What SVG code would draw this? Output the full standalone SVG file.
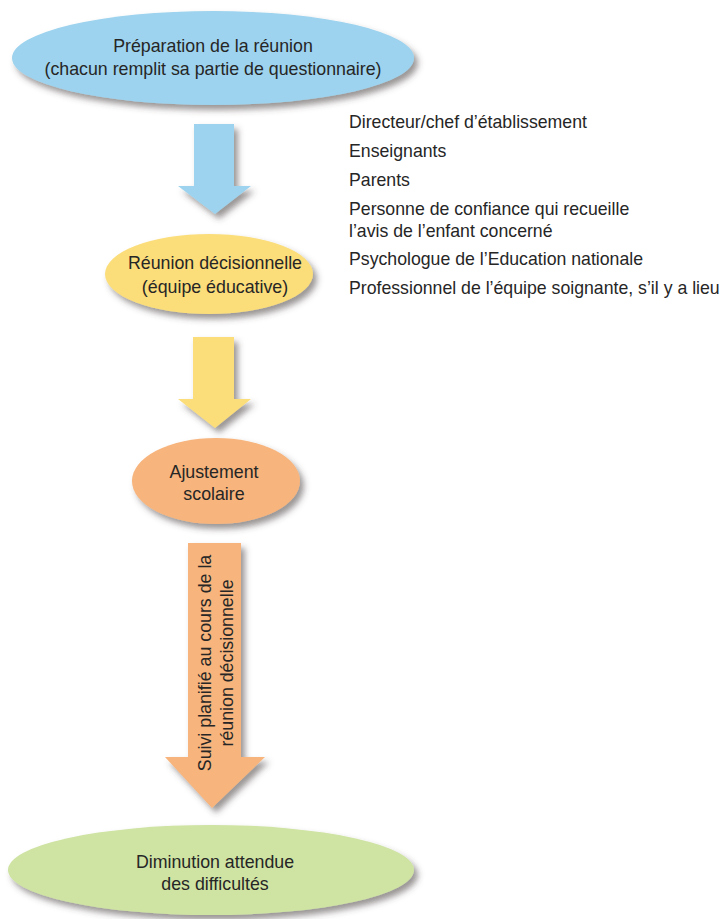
<svg xmlns="http://www.w3.org/2000/svg" width="727" height="919" viewBox="0 0 727 919">
<defs>
<filter id="sh" x="-20%" y="-20%" width="150%" height="160%">
<feDropShadow dx="4" dy="5" stdDeviation="3" flood-color="#4a4040" flood-opacity="0.55"/>
</filter>
</defs>
<style>
text{font-family:"Liberation Sans",Arial,sans-serif;fill:#262626;font-size:17.8px}
.c{text-anchor:middle}
.l{font-size:17.7px}
</style>
<rect width="727" height="919" fill="#fff"/>
<g id="connectors">
<polygon id="a1" filter="url(#sh)" fill="#9dd3ee" points="194,124 234,124 234,186 251,186 215,214 178,186 194,186"/>
<polygon id="a2" filter="url(#sh)" fill="#fbdd7a" points="193,337 234,337 234,399 251,399 215,428 178,399 193,399"/>
<polygon id="a3" filter="url(#sh)" fill="#f7b47c" points="188,543 241,543 241,757 265,757 212,808 165,757 188,757"/>
<g transform="translate(211,663) rotate(-90)">
<text class="c" x="0" y="0">Suivi planifié au cours de la</text>
<text class="c" x="0" y="22">réunion décisionnelle</text>
</g>
</g>
<g id="n1">
<ellipse filter="url(#sh)" cx="213" cy="58" rx="201" ry="47" fill="#9dd3ee"/>
<text class="c" x="213" y="52">Préparation de la réunion</text>
<text class="c" x="213" y="75">(chacun remplit sa partie de questionnaire)</text>
</g>
<g id="n2">
<ellipse filter="url(#sh)" cx="209" cy="274" rx="104" ry="40" fill="#fbdd7a"/>
<text class="c" x="215" y="269">Réunion décisionnelle</text>
<text class="c" x="215" y="293">(équipe éducative)</text>
</g>
<g id="n3">
<ellipse filter="url(#sh)" cx="216" cy="481" rx="84" ry="43" fill="#f7b47c"/>
<text class="c" x="214" y="478">Ajustement</text>
<text class="c" x="214" y="500">scolaire</text>
</g>
<g id="n4">
<ellipse filter="url(#sh)" cx="211" cy="870" rx="203" ry="45" fill="#cfe3a3"/>
<text class="c" x="215" y="868">Diminution attendue</text>
<text class="c" x="215" y="890">des difficultés</text>
</g>
<g id="participants">
<text class="l" x="349" y="128">Directeur/chef d’établissement</text>
<text class="l" x="349" y="157">Enseignants</text>
<text class="l" x="349" y="186">Parents</text>
<text class="l" x="349" y="215">Personne de confiance qui recueille</text>
<text class="l" x="349" y="237">l’avis de l’enfant concerné</text>
<text class="l" x="349" y="265">Psychologue de l’Education nationale</text>
<text class="l" x="349" y="294">Professionnel de l’équipe soignante, s’il y a lieu</text>
</g>
</svg>
